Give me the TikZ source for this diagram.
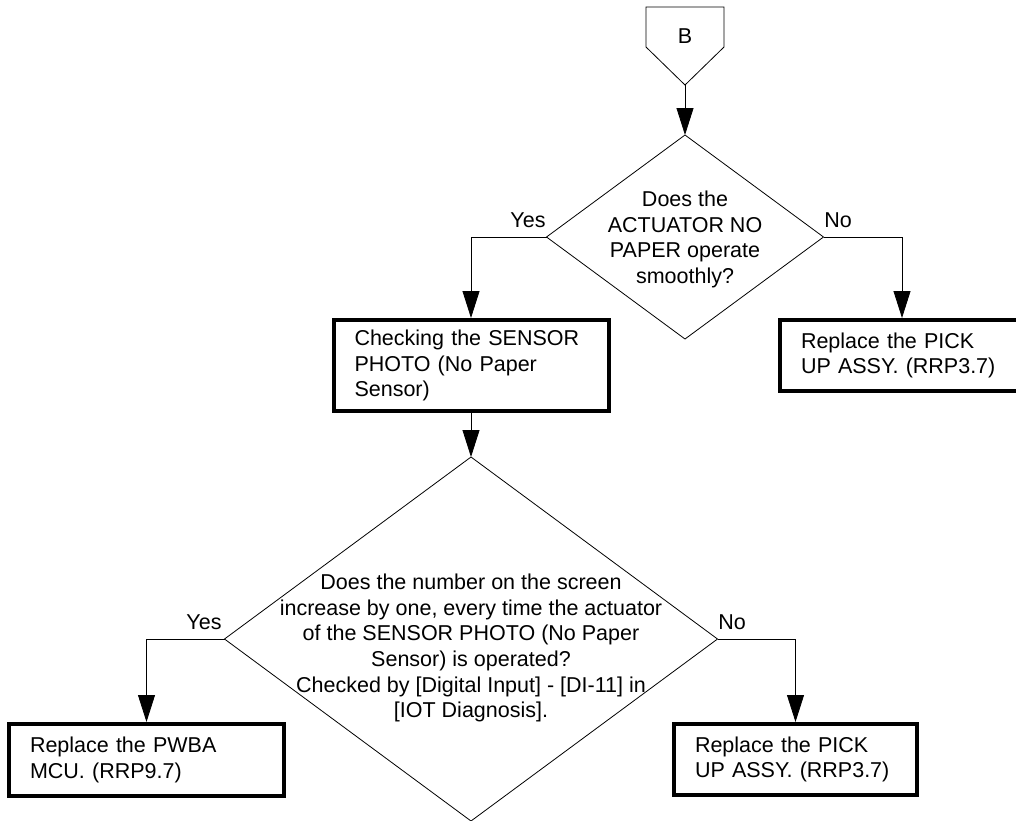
\documentclass[tikz,border=0pt]{standalone}
\usepackage{fontspec}
\setmainfont{Liberation Sans}
\usetikzlibrary{arrows.meta,shapes.geometric}
\begin{document}
\begin{tikzpicture}[x=1pt,y=-1pt,
  every node/.style={font=\fontsize{21.5}{25.7}\selectfont, inner sep=0pt},
  box/.style={draw, line width=4pt, rectangle, align=left, inner xsep=21pt, inner ysep=0pt},
  dia/.style={draw, diamond, line width=0.8pt, inner sep=0pt, outer sep=0pt},
  arr/.style={line width=0.8pt, -{Triangle[length=27pt,width=17pt]}},
  lbl/.style={anchor=base}]
\useasboundingbox (0,0) rectangle (1016,820);
\clip (0,0) rectangle (1016,820);

% off-page connector B
\draw[line width=0.8pt] (646,7) -- (724,7) -- (724,47) -- (685,85) -- (646,47) -- cycle;
\coordinate (Btip) at (685,85);
\node (B) at (685,36) {B};

% decision 1
\node[dia, minimum width=277pt, minimum height=204pt] (d1) at (685,237) {};
\node[align=center] (q1) at (685,239.4) {Does the\\ACTUATOR NO\\PAPER operate\\smoothly?};

% boxes
\node[box, minimum width=275pt, minimum height=91pt, text width=233pt] (chk) at (471,365.5)
  {Checking the SENSOR\\PHOTO (No Paper\\Sensor)};
\node[box, minimum width=244pt, minimum height=71pt, text width=202pt] (r1) at (902,355.5)
  {Replace the PICK\\UP ASSY. (RRP3.7)};

% decision 2
\node[dia, minimum width=493pt, minimum height=364pt] (d2) at (471,639) {};
\node[align=center] (q2) at (471,648) {Does the number on the screen\\increase by one, every time the actuator\\of the SENSOR PHOTO (No Paper\\Sensor) is operated?\\Checked by [Digital Input] - [DI-11] in\\{}[IOT Diagnosis].};

\node[box, minimum width=275pt, minimum height=72pt, text width=233pt] (bl) at (146.5,760)
  {Replace the PWBA\\MCU. (RRP9.7)};
\node[box, minimum width=243pt, minimum height=71pt, text width=201pt] (br) at (795.5,759.5)
  {Replace the PICK\\UP ASSY. (RRP3.7)};

% labels
\node[lbl] (y1) at (528,227) {Yes};
\node[lbl] (n1) at (838,227) {No};
\node[lbl] (y2) at (204,629) {Yes};
\node[lbl] (n2) at (732,629) {No};

% connectors
\draw[arr] (Btip) -- (d1.north);
\draw[arr] (d1.west) -| (chk.north);
\draw[arr] (d1.east) -| (r1.north);
\draw[arr] (chk.south) -- (d2.north);
\draw[arr] (d2.west) -| (bl.north);
\draw[arr] (d2.east) -| (br.north);
\end{tikzpicture}
\end{document}
